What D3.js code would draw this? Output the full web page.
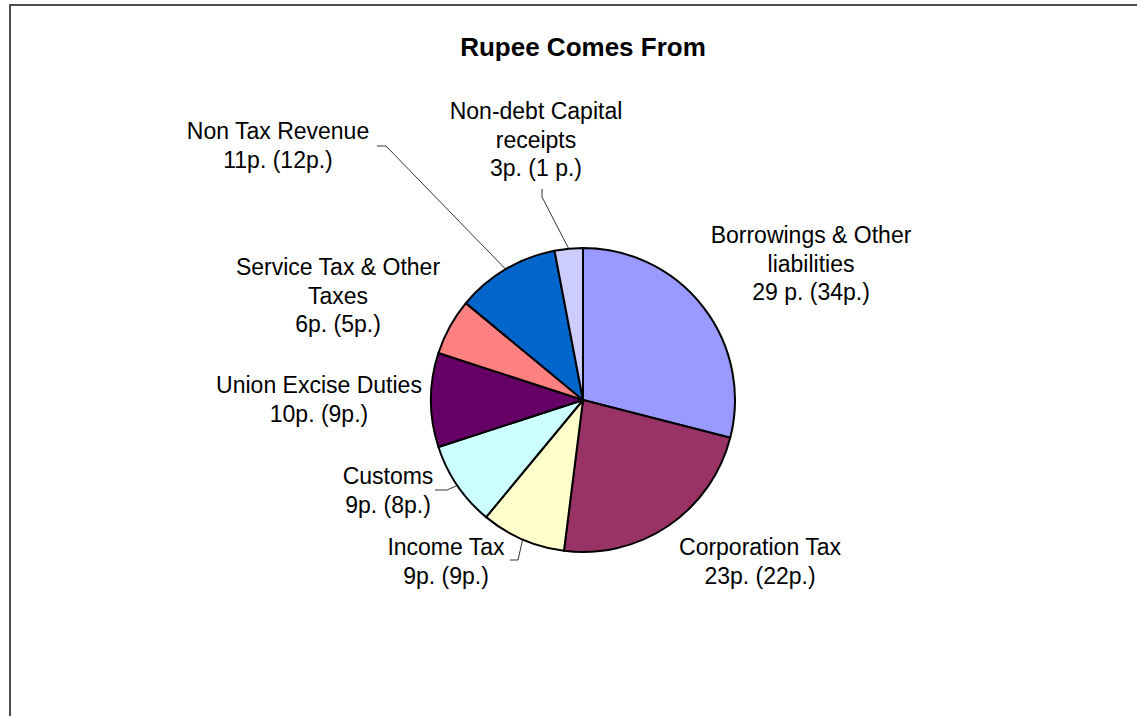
<!DOCTYPE html>
<html>
<head>
<meta charset="utf-8">
<script src="https://cdn.jsdelivr.net/npm/d3@7"></script>
<style>
  html, body { margin: 0; padding: 0; background: #fff; }
  svg { display: block; font-family: "Liberation Sans", Arial, sans-serif; }
</style>
</head>
<body>
<div id="chart"></div>
<script>
// Rupee Comes From - share of each source, this year and (last year)
const categories = [
  "Borrowings & Other liabilities",
  "Corporation Tax",
  "Income Tax",
  "Customs",
  "Union Excise Duties",
  "Service Tax & Other Taxes",
  "Non Tax Revenue",
  "Non-debt Capital receipts"
];
const values = [29, 23, 9, 9, 10, 6, 11, 3];
const prevValues = [34, 22, 9, 8, 9, 5, 12, 1];
const colors = ["#9999FF", "#993366", "#FFFFCC", "#CCFFFF", "#660066", "#FF8080", "#0066CC", "#CCCCFF"];

// label text as it appears (line breaks kept)
const labelLines = [
  ["Borrowings & Other", "liabilities", "29 p. (34p.)"],
  ["Corporation Tax", "23p. (22p.)"],
  ["Income Tax", "9p. (9p.)"],
  ["Customs", "9p. (8p.)"],
  ["Union Excise Duties", "10p. (9p.)"],
  ["Service Tax & Other", "Taxes", "6p. (5p.)"],
  ["Non Tax Revenue", "11p. (12p.)"],
  ["Non-debt Capital", "receipts", "3p. (1 p.)"]
];

const width = 1137, height = 716;
const cx = 583, cy = 400, r = 152;
const lineH = 28.5;

// label layout: centre x, first line centre y, optional leader (start, elbow)
const labelPos = [
  { x: 811, y: 235 },
  { x: 760, y: 547 },
  { x: 446, y: 547, lead: [[510, 560], [518, 560]] },
  { x: 388, y: 476, lead: [[435, 490], [447, 490]] },
  { x: 319, y: 385 },
  { x: 338, y: 267 },
  { x: 278, y: 131, lead: [[377, 146], [386, 146]] },
  { x: 536, y: 111, lead: [[542, 189], [542, 197]] }
];

const data = categories.map((c, i) => ({ name: c, value: values[i], prev: prevValues[i], color: colors[i], lines: labelLines[i], pos: labelPos[i] }));

const svg = d3.select("#chart").append("svg")
  .attr("width", width)
  .attr("height", height);

// chart frame (runs off right/bottom)
svg.append("rect")
  .attr("x", 10).attr("y", 5)
  .attr("width", width + 20).attr("height", height + 20)
  .attr("fill", "#fff")
  .attr("stroke", "#222")
  .attr("stroke-width", 1.6);

svg.append("text")
  .attr("x", cx).attr("y", 47)
  .attr("dy", "0.35em")
  .attr("text-anchor", "middle")
  .attr("font-size", 26)
  .attr("font-weight", "bold")
  .text("Rupee Comes From");

const pie = d3.pie().sort(null).value(d => d.value);
const arc = d3.arc().innerRadius(0).outerRadius(r);
const edge = d3.arc().innerRadius(r).outerRadius(r);
const arcs = pie(data);

const g = svg.append("g").attr("transform", `translate(${cx},${cy})`);

g.selectAll("path.slice")
  .data(arcs)
  .enter().append("path")
  .attr("class", "slice")
  .attr("d", arc)
  .attr("fill", d => d.data.color)
  .attr("stroke", "#000")
  .attr("stroke-width", 2)
  .attr("stroke-linejoin", "round");

// leader lines
arcs.forEach(d => {
  const p = d.data.pos;
  if (!p.lead) return;
  const c = edge.centroid(d);
  const pts = [p.lead[0], p.lead[1], [c[0] + cx, c[1] + cy]];
  svg.append("path")
    .attr("d", d3.line()(pts))
    .attr("fill", "none")
    .attr("stroke", "#000")
    .attr("stroke-width", 0.8);
});

// labels
const labels = svg.append("g").attr("class", "labels");
data.forEach(d => {
  const t = labels.append("text")
    .attr("text-anchor", "middle")
    .attr("font-size", 23)
    .attr("fill", "#000");
  d.lines.forEach((ln, i) => {
    t.append("tspan")
      .attr("x", d.pos.x)
      .attr("y", d.pos.y + i * lineH)
      .attr("dy", "0.35em")
      .text(ln);
  });
});
</script>
</body>
</html>
